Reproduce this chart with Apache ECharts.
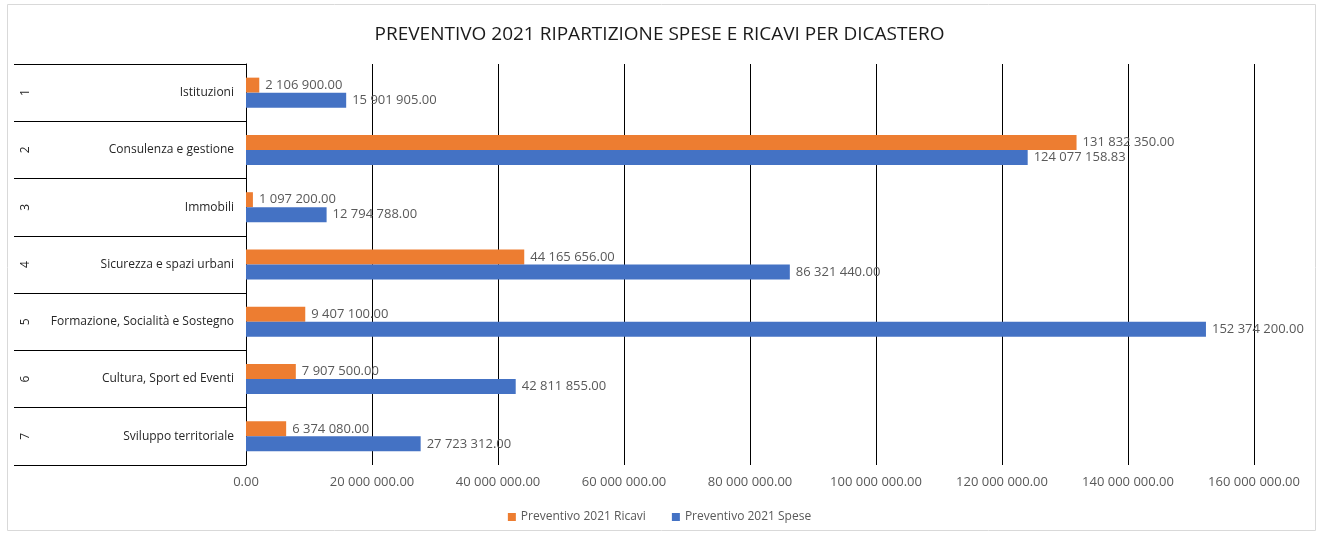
<!DOCTYPE html>
<html>
<head>
<meta charset="utf-8">
<script src="https://cdn.jsdelivr.net/npm/echarts@6/dist/echarts.min.js"></script>
<style>
html, body { margin: 0; padding: 0; background: #fff; }
#chart { width: 1319px; height: 533px; }
</style>
</head>
<body>
<div id="chart"></div>
<script>
var numbers = ['1', '2', '3', '4', '5', '6', '7']
var categories = ['Istituzioni', 'Consulenza e gestione', 'Immobili', 'Sicurezza e spazi urbani',
  'Formazione, Socialità e Sostegno', 'Cultura, Sport ed Eventi', 'Sviluppo territoriale']
var ricavi = [2106900, 131832350, 1097200, 44165656, 9407100, 7907500, 6374080]
var spese = [15901905, 124077158.83, 12794788, 86321440, 152374200, 42811855, 27723312]

var font = '"Open Sans", "Noto Sans", sans-serif'

// 12 345 678.00
function fmt(v) {
  var s = Number(v).toFixed(2)
  var parts = s.split('.')
  return parts[0].replace(/\B(?=(\d{3})+(?!\d))/g, ' ') + '.' + parts[1]
}

var chart = echarts.init(document.getElementById('chart'))
var option = {
  animation: false,
  textStyle: { fontFamily: font },
  title: {
    text: 'PREVENTIVO 2021 RIPARTIZIONE SPESE E RICAVI PER DICASTERO',
    left: 'center',
    top: 20,
    textStyle: { fontFamily: font, fontSize: 19, fontWeight: 'normal', color: '#1a1a1a' }
  },
  legend: {
    data: ['Preventivo 2021 Ricavi', 'Preventivo 2021 Spese'],
    bottom: 5,
    left: 'center',
    itemWidth: 8,
    itemHeight: 8,
    itemGap: 26,
    icon: 'rect',
    textStyle: { fontFamily: font, fontSize: 12, color: '#595959' }
  },
  graphic: [{
    type: 'rect',
    shape: { x: 7.5, y: 4.5, width: 1308, height: 526 },
    style: { fill: 'none', stroke: '#d9d9d9', lineWidth: 1 },
    silent: true
  }],
  grid: { left: 246, right: 65, top: 64, bottom: 68 },
  xAxis: {
    type: 'value',
    min: 0,
    max: 160000000,
    interval: 20000000,
    axisLine: { show: false },
    axisTick: { show: false },
    splitLine: { show: true, lineStyle: { color: '#000', width: 1 } },
    axisLabel: {
      margin: 11,
      color: '#595959',
      fontSize: 13,
      fontFamily: font,
      formatter: fmt
    }
  },
  yAxis: [
    {
      type: 'category',
      inverse: true,
      data: categories,
      axisLine: { show: true, lineStyle: { color: '#000', width: 1 } },
      axisTick: { show: true, length: 232, interval: 0, lineStyle: { color: '#000', width: 1 } },
      axisLabel: { margin: 12, color: '#262626', fontSize: 12, fontFamily: font }
    },
    {
      type: 'category',
      position: 'left',
      inverse: true,
      data: numbers,
      axisLine: { show: false },
      axisTick: { show: false },
      axisLabel: {
        margin: 220,
        rotate: 90,
        align: 'center',
        verticalAlign: 'middle',
        color: '#262626',
        fontSize: 12,
        fontFamily: font
      }
    }
  ],
  series: [
    {
      name: 'Preventivo 2021 Ricavi',
      type: 'bar',
      data: ricavi,
      barWidth: 15,
      barGap: '0%',
      itemStyle: { color: '#ED7D31' },
      label: {
        show: true,
        position: 'right',
        distance: 6,
        color: '#595959',
        fontSize: 13,
        fontFamily: font,
        formatter: function(p) { return fmt(p.value) }
      }
    },
    {
      name: 'Preventivo 2021 Spese',
      type: 'bar',
      data: spese,
      barWidth: 15,
      barGap: '0%',
      itemStyle: { color: '#4472C4' },
      label: {
        show: true,
        position: 'right',
        distance: 6,
        color: '#595959',
        fontSize: 13,
        fontFamily: font,
        formatter: function(p) { return fmt(p.value) }
      }
    }
  ]
}
chart.setOption(option)
</script>
</body>
</html>
